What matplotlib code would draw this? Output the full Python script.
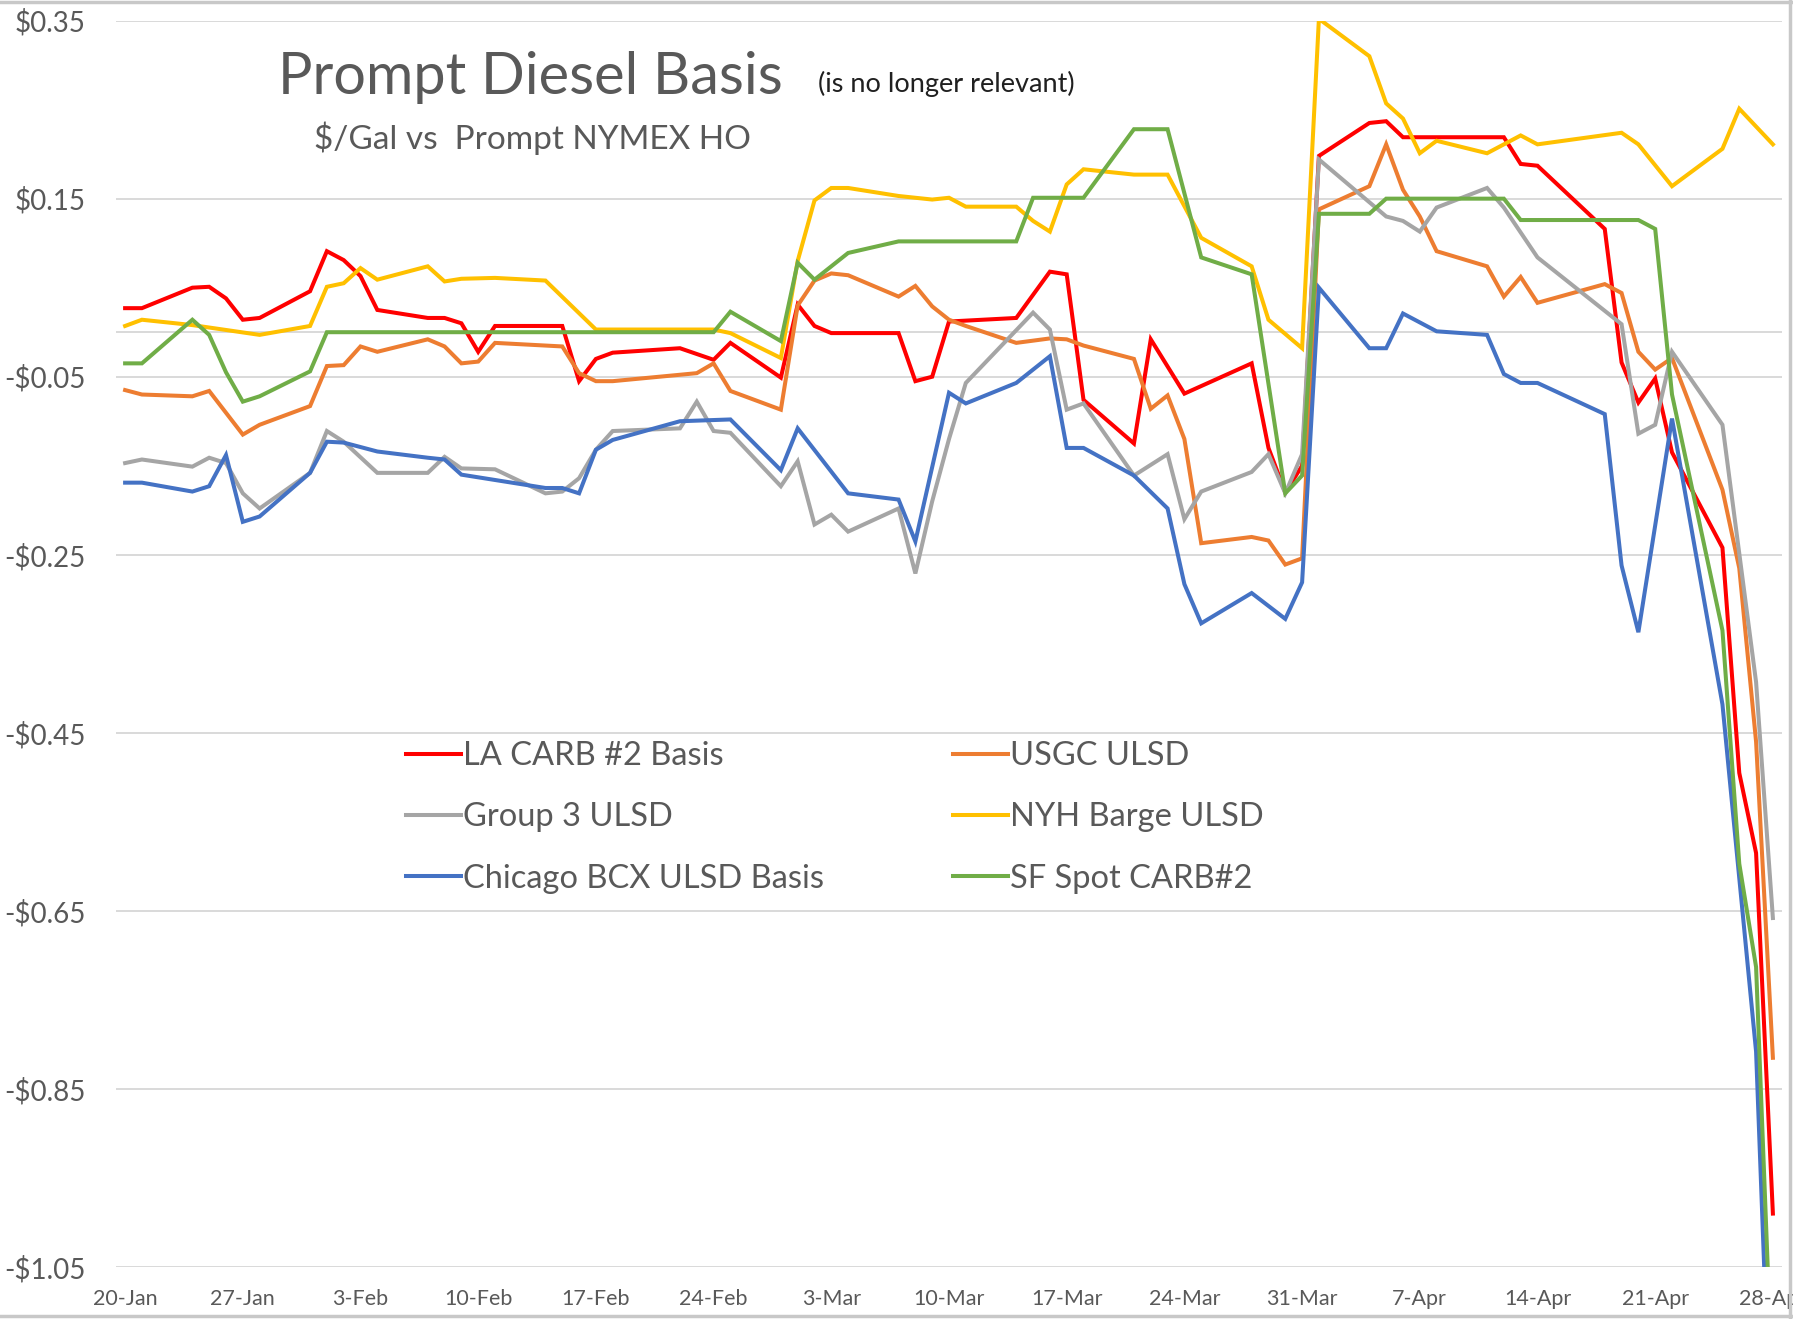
import matplotlib.dates as mdates
import matplotlib.pyplot as plt
import pandas as pd
from matplotlib.lines import Line2D

YEAR = 2022

# 每个序列：日期（MM-DD）与数值（$/gal，相对 NYMEX HO）
la_dates = ['01-20', '01-21', '01-24', '01-25', '01-26', '01-27', '01-28', '01-31', '02-01', '02-02',
            '02-03', '02-04', '02-07', '02-08', '02-09', '02-10', '02-11', '02-15', '02-16', '02-17',
            '02-18', '02-22', '02-24', '02-25', '02-28', '03-01', '03-02', '03-03', '03-07', '03-08',
            '03-09', '03-10', '03-14', '03-16', '03-17', '03-18', '03-21', '03-22', '03-24', '03-28',
            '03-29', '03-30', '03-31', '04-01', '04-04', '04-05', '04-06', '04-12', '04-13', '04-14',
            '04-18', '04-19', '04-20', '04-21', '04-22', '04-25', '04-26', '04-27', '04-28']
la_vals = [0.027, 0.027, 0.050, 0.051, 0.038, 0.014, 0.016, 0.046, 0.091, 0.081,
           0.063, 0.025, 0.016, 0.016, 0.010, -0.022, 0.007, 0.007, -0.055, -0.030,
           -0.023, -0.018, -0.031, -0.012, -0.051, 0.031, 0.007, -0.001, -0.001, -0.055,
           -0.050, 0.012, 0.016, 0.068, 0.065, -0.076, -0.125, -0.008, -0.069, -0.035,
           -0.130, -0.180, -0.150, 0.198, 0.235, 0.237, 0.219, 0.219, 0.189, 0.187,
           0.116, -0.034, -0.079, -0.052, -0.135, -0.242, -0.495, -0.585, -0.990]

usgc_dates = ['01-20', '01-21', '01-24', '01-25', '01-27', '01-28', '01-31', '02-01', '02-02', '02-03',
              '02-04', '02-07', '02-08', '02-09', '02-10', '02-11', '02-15', '02-16', '02-17', '02-18',
              '02-23', '02-24', '02-25', '02-28', '03-01', '03-02', '03-03', '03-04', '03-07', '03-08',
              '03-09', '03-10', '03-11', '03-14', '03-16', '03-17', '03-18', '03-21', '03-22', '03-23',
              '03-24', '03-25', '03-28', '03-29', '03-30', '03-31', '04-01', '04-04', '04-05', '04-06',
              '04-07', '04-08', '04-11', '04-12', '04-13', '04-14', '04-18', '04-19', '04-20', '04-21',
              '04-22', '04-25', '04-26', '04-27', '04-28']
usgc_vals = [-0.065, -0.070, -0.072, -0.066, -0.115, -0.104, -0.083, -0.038, -0.037, -0.016,
             -0.022, -0.008, -0.016, -0.035, -0.033, -0.012, -0.016, -0.046, -0.055, -0.055,
             -0.046, -0.035, -0.066, -0.087, 0.030, 0.058, 0.066, 0.064, 0.040, 0.052,
             0.029, 0.014, 0.007, -0.012, -0.007, -0.008, -0.015, -0.030, -0.086, -0.071,
             -0.120, -0.237, -0.230, -0.234, -0.261, -0.254, 0.138, 0.164, 0.211, 0.160,
             0.130, 0.091, 0.074, 0.040, 0.062, 0.033, 0.054, 0.044, -0.022, -0.042,
             -0.029, -0.177, -0.265, -0.460, -0.815]

g3_dates = ['01-20', '01-21', '01-24', '01-25', '01-26', '01-27', '01-28', '01-31', '02-01', '02-02',
            '02-04', '02-07', '02-08', '02-09', '02-11', '02-14', '02-15', '02-16', '02-17', '02-18',
            '02-22', '02-23', '02-24', '02-25', '02-28', '03-01', '03-02', '03-03', '03-04', '03-07',
            '03-08', '03-09', '03-10', '03-11', '03-15', '03-16', '03-17', '03-18', '03-21', '03-23',
            '03-24', '03-25', '03-28', '03-29', '03-30', '03-31', '04-01', '04-05', '04-06', '04-07',
            '04-08', '04-11', '04-12', '04-14', '04-19', '04-20', '04-21', '04-22', '04-25', '04-27',
            '04-28']
g3_vals = [-0.147, -0.143, -0.151, -0.141, -0.147, -0.181, -0.198, -0.158, -0.111, -0.123,
           -0.158, -0.158, -0.140, -0.153, -0.154, -0.181, -0.179, -0.164, -0.132, -0.111,
           -0.108, -0.078, -0.111, -0.113, -0.173, -0.145, -0.216, -0.205, -0.224, -0.198,
           -0.271, -0.190, -0.120, -0.057, 0.022, 0.003, -0.087, -0.080, -0.161, -0.137,
           -0.210, -0.179, -0.157, -0.137, -0.181, -0.137, 0.194, 0.130, 0.125, 0.113,
           0.140, 0.162, 0.140, 0.084, 0.009, -0.114, -0.104, -0.022, -0.104, -0.393,
           -0.658]

nyh_dates = ['01-20', '01-21', '01-24', '01-28', '01-31', '02-01', '02-02', '02-03', '02-04', '02-07',
             '02-08', '02-09', '02-11', '02-14', '02-17', '02-24', '02-25', '02-28', '03-01', '03-02',
             '03-03', '03-04', '03-07', '03-09', '03-10', '03-11', '03-14', '03-15', '03-16', '03-17',
             '03-18', '03-21', '03-23', '03-25', '03-28', '03-29', '03-31', '04-01', '04-04', '04-05',
             '04-06', '04-07', '04-08', '04-11', '04-13', '04-14', '04-19', '04-20', '04-22', '04-25',
             '04-26', '04-28']
nyh_vals = [0.007, 0.014, 0.008, -0.003, 0.007, 0.051, 0.055, 0.072, 0.059, 0.074,
            0.057, 0.060, 0.061, 0.058, 0.003, 0.003, -0.001, -0.029, 0.080, 0.148,
            0.162, 0.162, 0.153, 0.149, 0.151, 0.141, 0.141, 0.125, 0.113, 0.166,
            0.183, 0.177, 0.177, 0.106, 0.074, 0.014, -0.018, 0.352, 0.310, 0.257,
            0.240, 0.201, 0.215, 0.201, 0.221, 0.211, 0.224, 0.211, 0.164, 0.206,
            0.251, 0.211]

chi_dates = ['01-20', '01-21', '01-24', '01-25', '01-26', '01-27', '01-28', '01-31', '02-01', '02-02',
             '02-04', '02-07', '02-08', '02-09', '02-11', '02-14', '02-15', '02-16', '02-17', '02-18',
             '02-22', '02-25', '02-28', '03-01', '03-04', '03-07', '03-08', '03-10', '03-11', '03-14',
             '03-16', '03-17', '03-18', '03-21', '03-23', '03-24', '03-25', '03-28', '03-30', '03-31',
             '04-01', '04-04', '04-05', '04-06', '04-08', '04-11', '04-12', '04-13', '04-14', '04-18',
             '04-19', '04-20', '04-22', '04-25', '04-27', '04-28']
chi_vals = [-0.169, -0.169, -0.179, -0.173, -0.138, -0.213, -0.207, -0.158, -0.123, -0.124,
            -0.134, -0.141, -0.143, -0.160, -0.166, -0.175, -0.175, -0.181, -0.132, -0.121,
            -0.100, -0.098, -0.155, -0.108, -0.181, -0.188, -0.235, -0.068, -0.080, -0.057,
            -0.027, -0.130, -0.130, -0.161, -0.198, -0.283, -0.327, -0.293, -0.322, -0.281,
            0.050, -0.018, -0.018, 0.021, 0.001, -0.003, -0.047, -0.057, -0.057, -0.092,
            -0.262, -0.337, -0.097, -0.418, -0.808, -1.310]

sf_dates = ['01-20', '01-21', '01-24', '01-25', '01-26', '01-27', '01-28', '01-31', '02-01', '02-24',
            '02-25', '02-28', '03-01', '03-02', '03-04', '03-07', '03-14', '03-15', '03-18', '03-21',
            '03-23', '03-25', '03-28', '03-30', '03-31', '04-01', '04-04', '04-05', '04-12', '04-13',
            '04-20', '04-21', '04-22', '04-25', '04-26', '04-27', '04-28']
sf_vals = [-0.035, -0.035, 0.014, -0.003, -0.045, -0.078, -0.072, -0.044, 0.000, 0.000,
           0.023, -0.010, 0.078, 0.059, 0.089, 0.102, 0.102, 0.151, 0.151, 0.228,
           0.228, 0.084, 0.065, -0.181, -0.161, 0.133, 0.133, 0.150, 0.150, 0.126,
           0.126, 0.116, -0.070, -0.335, -0.597, -0.713, -1.200]

y_ticks = [-1.05, -0.85, -0.65, -0.45, -0.25, -0.05, 0.15, 0.35]

# 绘制顺序与 Excel 系列顺序一致
series = [
    ('LA CARB #2 Basis', la_dates, la_vals, '#FF0000'),
    ('USGC ULSD', usgc_dates, usgc_vals, '#ED7D31'),
    ('Group 3 ULSD', g3_dates, g3_vals, '#A5A5A5'),
    ('NYH Barge ULSD', nyh_dates, nyh_vals, '#FFC000'),
    ('Chicago BCX ULSD Basis', chi_dates, chi_vals, '#4472C4'),
    ('SF Spot CARB#2', sf_dates, sf_vals, '#70AD47'),
]

TEXT = '#595959'
GRID = '#D9D9D9'
plt.rcParams['font.family'] = ['Lato', 'DejaVu Sans']


def to_dates(days):
    return pd.to_datetime([f'{YEAR}-{d}' for d in days])


def money(v):
    return f'-\\${abs(v):.2f}' if v < 0 else f'\\${v:.2f}'


fig = plt.figure(figsize=(17.93, 13.19), dpi=100)
ax = fig.add_axes([116 / 1793, 1 - 1267 / 1319, 1666 / 1793, 1246.4 / 1319])

lines = {}
for name, days, vals, color in series:
    lines[name], = ax.plot(to_dates(days), vals, color=color, lw=2.9, label=name,
                           solid_joinstyle='miter')

start = pd.Timestamp(f'{YEAR}-01-20')
end = pd.Timestamp(f'{YEAR}-04-28')
ax.set_xlim(start - pd.Timedelta(hours=13), end + pd.Timedelta(hours=13))
ax.set_ylim(-1.05, 0.35)

ax.set_xticks(pd.date_range(start, end, freq='7D'))
ax.xaxis.set_major_formatter(mdates.DateFormatter('%-d-%b'))
ax.set_yticks(y_ticks)
ax.set_yticklabels([money(v) for v in y_ticks])
ax.tick_params(axis='y', length=0, pad=22, labelsize=20, labelcolor=TEXT)
ax.tick_params(axis='x', length=0, pad=16, labelsize=15.5, labelcolor=TEXT)

ax.grid(axis='y', color=GRID, lw=1.4)
ax.axhline(0, color=GRID, lw=1.4, zorder=1)
ax.set_axisbelow(True)
for s in ax.spines.values():
    s.set_visible(False)

# 图例：两列，无边框
order = ['LA CARB #2 Basis', 'Group 3 ULSD', 'Chicago BCX ULSD Basis',
         'USGC ULSD', 'NYH Barge ULSD', 'SF Spot CARB#2']
leg = ax.legend([lines[n] for n in order], order, ncol=2, frameon=False,
                loc='upper left', bbox_to_anchor=(406 / 1793, 1 - 741 / 1319),
                bbox_transform=fig.transFigure, fontsize=23.5, handlelength=1.68,
                handletextpad=0.06, labelspacing=0.96, columnspacing=3.95,
                borderpad=0, borderaxespad=0)
for t in leg.get_texts():
    t.set_color(TEXT)

# 标题
fig.text(278 / 1793, 1 - 94 / 1319, 'Prompt Diesel Basis', fontsize=41.5, color=TEXT, va='baseline')
fig.text(818 / 1793, 1 - 92 / 1319, '(is no longer relevant)', fontsize=19.5, color='#202020',
         va='baseline')
fig.text(314 / 1793, 1 - 149 / 1319, '\\$/Gal vs  Prompt NYMEX HO', fontsize=24, color=TEXT,
         va='baseline')

# 图表区边框
border = dict(color='#C8C8C8', lw=2.5, transform=fig.transFigure)
fig.add_artist(Line2D([0, 1], [0.9985, 0.9985], **border))
fig.add_artist(Line2D([0.9985, 0.9985], [0, 1], **border))
fig.add_artist(Line2D([0, 1], [0.0025, 0.0025], **border))

fig.savefig('out.png', dpi=100)
